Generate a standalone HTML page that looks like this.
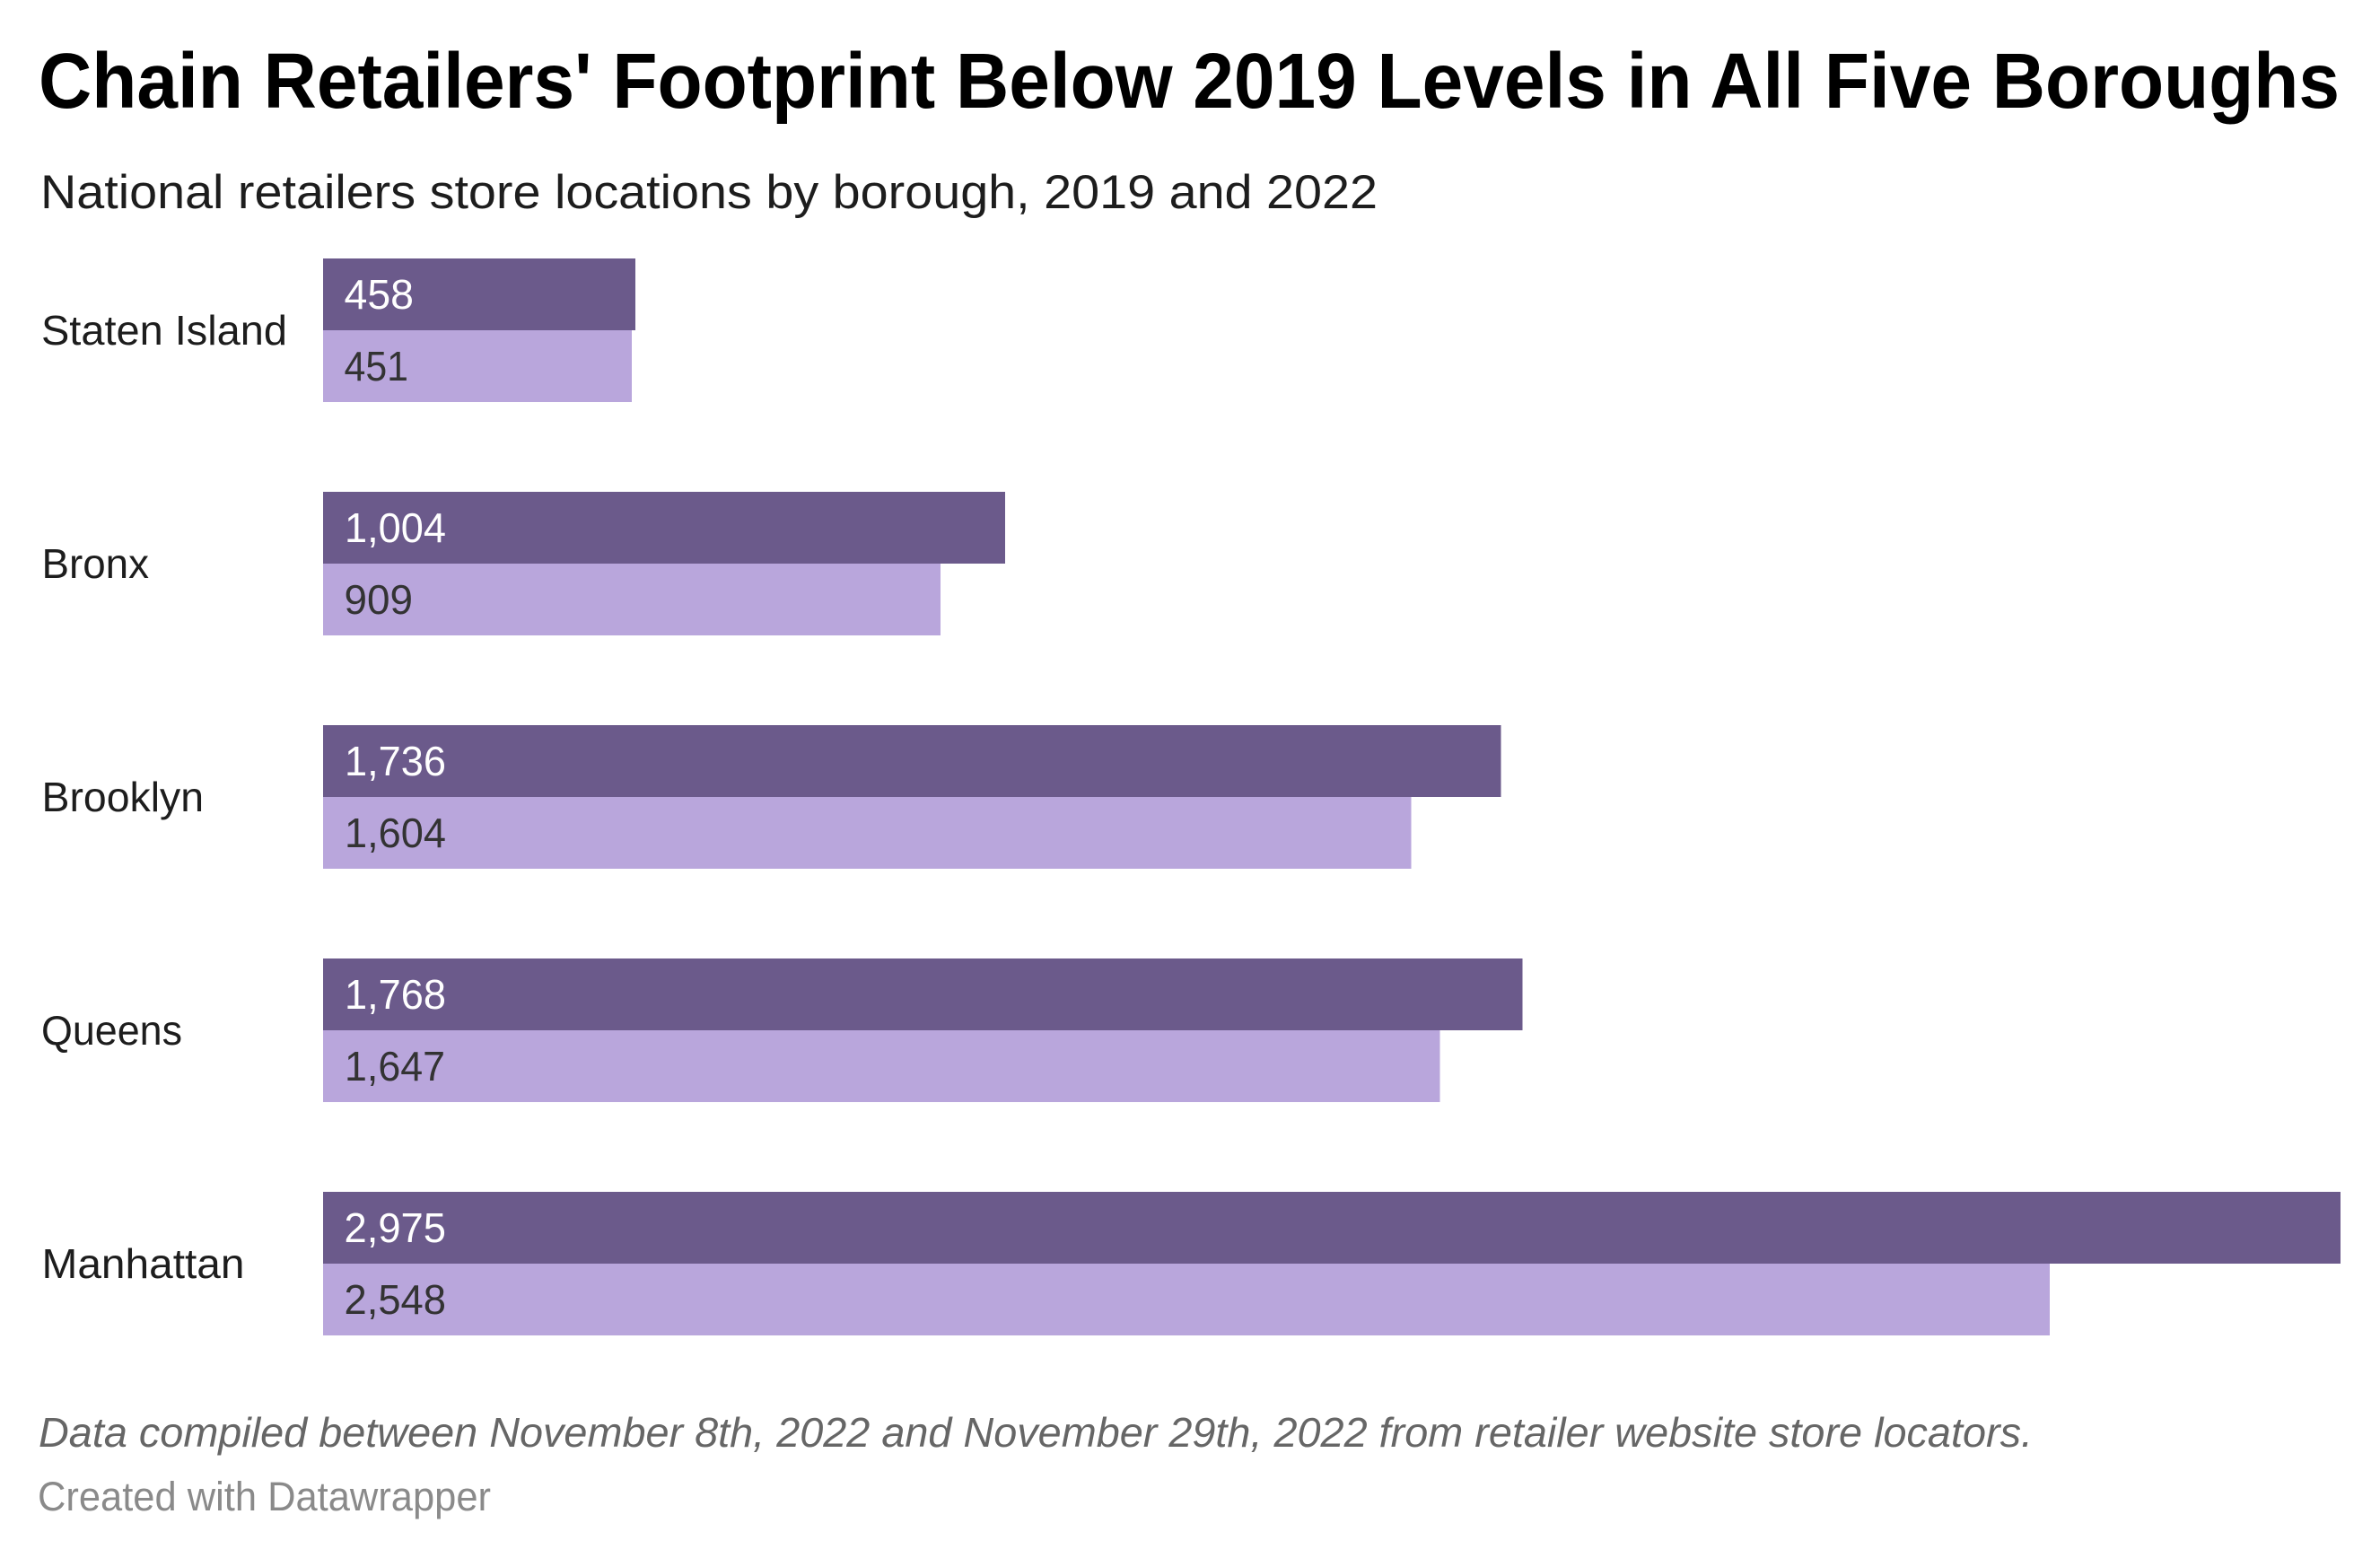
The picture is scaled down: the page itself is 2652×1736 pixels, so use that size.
<!DOCTYPE html>
<html>
<head>
<meta charset="utf-8">
<style>
  html, body { margin: 0; padding: 0; background: #ffffff; }
  body { width: 2652px; height: 1736px; overflow: hidden; }
  svg { display: block; }
  text { font-family: "Liberation Sans", Arial, sans-serif; }
</style>
</head>
<body>
<svg width="2652" height="1736" viewBox="0 0 2652 1736" xmlns="http://www.w3.org/2000/svg">
  <rect x="0" y="0" width="2652" height="1736" fill="#ffffff"/>

  <!-- Title -->
  <text x="43" y="120" font-size="87" font-weight="bold" fill="#000000" textLength="2564" lengthAdjust="spacingAndGlyphs">Chain Retailers' Footprint Below 2019 Levels in All Five Boroughs</text>
  <!-- Subtitle -->
  <text x="45" y="232" font-size="53" fill="#1d1d1d" textLength="1490" lengthAdjust="spacingAndGlyphs">National retailers store locations by borough, 2019 and 2022</text>

  <!-- Staten Island -->
  <rect x="360" y="288" width="348" height="80" fill="#6b5a8b"/>
  <rect x="360" y="368" width="344" height="80" fill="#b9a6dc"/>
  <text x="46" y="384" font-size="46" fill="#1d1d1d" textLength="274" lengthAdjust="spacingAndGlyphs">Staten Island</text>
  <text x="383.5" y="344" font-size="46" fill="#ffffff" textLength="77.5" lengthAdjust="spacingAndGlyphs">458</text>
  <text x="383.5" y="424" font-size="46" fill="#333333" textLength="71.5" lengthAdjust="spacingAndGlyphs">451</text>

  <!-- Bronx -->
  <rect x="360" y="548" width="760" height="80" fill="#6b5a8b"/>
  <rect x="360" y="628" width="688" height="80" fill="#b9a6dc"/>
  <text x="46.5" y="644" font-size="46" fill="#1d1d1d" textLength="119.5" lengthAdjust="spacingAndGlyphs">Bronx</text>
  <text x="384" y="604" font-size="46" fill="#ffffff" textLength="113" lengthAdjust="spacingAndGlyphs">1,004</text>
  <text x="383.5" y="684" font-size="46" fill="#333333" textLength="76.5" lengthAdjust="spacingAndGlyphs">909</text>

  <!-- Brooklyn -->
  <rect x="360" y="808" width="1312.5" height="80" fill="#6b5a8b"/>
  <rect x="360" y="888" width="1212.5" height="80" fill="#b9a6dc"/>
  <text x="46.5" y="904" font-size="46" fill="#1d1d1d" textLength="180.5" lengthAdjust="spacingAndGlyphs">Brooklyn</text>
  <text x="384" y="864" font-size="46" fill="#ffffff" textLength="113" lengthAdjust="spacingAndGlyphs">1,736</text>
  <text x="384" y="944" font-size="46" fill="#333333" textLength="113" lengthAdjust="spacingAndGlyphs">1,604</text>

  <!-- Queens -->
  <rect x="360" y="1068" width="1336.5" height="80" fill="#6b5a8b"/>
  <rect x="360" y="1148" width="1244.5" height="80" fill="#b9a6dc"/>
  <text x="46" y="1164" font-size="46" fill="#1d1d1d" textLength="157" lengthAdjust="spacingAndGlyphs">Queens</text>
  <text x="384" y="1124" font-size="46" fill="#ffffff" textLength="113" lengthAdjust="spacingAndGlyphs">1,768</text>
  <text x="384" y="1204" font-size="46" fill="#333333" textLength="112" lengthAdjust="spacingAndGlyphs">1,647</text>

  <!-- Manhattan -->
  <rect x="360" y="1328" width="2248" height="80" fill="#6b5a8b"/>
  <rect x="360" y="1408" width="1924" height="80" fill="#b9a6dc"/>
  <text x="46.5" y="1424" font-size="46" fill="#1d1d1d" textLength="226" lengthAdjust="spacingAndGlyphs">Manhattan</text>
  <text x="383.5" y="1384" font-size="46" fill="#ffffff" textLength="113.5" lengthAdjust="spacingAndGlyphs">2,975</text>
  <text x="383.5" y="1464" font-size="46" fill="#333333" textLength="113.5" lengthAdjust="spacingAndGlyphs">2,548</text>

  <!-- Notes -->
  <text x="43" y="1612" font-size="46" font-style="italic" fill="#666666" textLength="2222" lengthAdjust="spacingAndGlyphs">Data compiled between November 8th, 2022 and November 29th, 2022 from retailer website store locators.</text>
  <text x="42" y="1683" font-size="45" fill="#8a8a8a" textLength="505" lengthAdjust="spacingAndGlyphs">Created with Datawrapper</text>
</svg>
</body>
</html>
